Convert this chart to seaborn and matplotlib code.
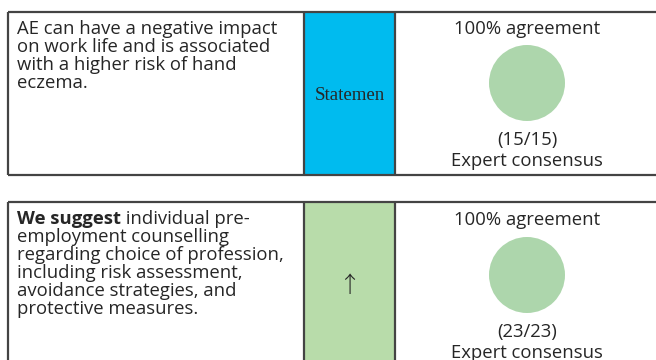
import matplotlib
matplotlib.use("Agg")
import matplotlib.pyplot as plt
import pandas as pd
import seaborn as sns

# contenu des deux recommandations
statement_lines = [
    ["AE can have a negative impact", "on work life and is associated",
     "with a higher risk of hand", "eczema."],
    ["individual pre-", "employment counselling",
     "regarding choice of profession,", "including risk assessment,",
     "avoidance strategies, and", "protective measures."],
]
bold_lead = ["", "We suggest"]
strength_labels = ["Statemen", "\u2191"]
strength_colors = ["#00BBEF", "#B8DCAA"]
agreement_pct = [100, 100]
votes = ["15/15", "23/23"]
consensus = ["Expert consensus", "Expert consensus"]

# mise en page en pixels
W, H = 656, 360
row_top = [12, 202]
row_bottom = [175, 366]
x_left, x_col1, x_col2 = 8, 304, 395
x_mid = 527
line_h = 18.0
fs = 13.3
text_color = "#262626"
border = "#444444"

sns.set_theme(style="white")
plt.rcParams["font.family"] = ["Open Sans", "DejaVu Sans"]

fig = plt.figure(figsize=(W / 100, H / 100), dpi=100)
ax = fig.add_axes([0, 0, 1, 1])
ax.set_xlim(0, W)
ax.set_ylim(H, 0)
ax.axis("off")

for i in range(len(statement_lines)):
    top, bot = row_top[i], row_bottom[i]
    # case colorée de la force de recommandation
    ax.fill_between([x_col1, x_col2], top, bot, color=strength_colors[i], lw=0, zorder=1)
    # bordures
    ax.hlines([top, bot], x_left, W, color=border, lw=1.6, zorder=3)
    ax.vlines([x_left, x_col1, x_col2], top, bot, color=border, lw=1.6, zorder=3)

    # texte de la recommandation
    y0 = top + (21.5 if i == 0 else 22.3)
    lines = statement_lines[i]
    x_start = x_left + 9
    if bold_lead[i]:
        t = ax.text(x_start, y0, bold_lead[i], fontsize=fs, fontweight="bold",
                    color=text_color, va="baseline", ha="left")
        fig.canvas.draw()
        bb = t.get_window_extent().transformed(ax.transData.inverted())
        ax.text(bb.x1, y0, " " + lines[0], fontsize=fs, color=text_color,
                va="baseline", ha="left")
    else:
        ax.text(x_start, y0, lines[0], fontsize=fs, color=text_color,
                va="baseline", ha="left")
    for k, ln in enumerate(lines[1:], start=1):
        ax.text(x_start, y0 + k * line_h, ln, fontsize=fs, color=text_color,
                va="baseline", ha="left")

    # libellé de force
    if i == 0:
        ax.text((x_col1 + x_col2) / 2, top + 88, strength_labels[i], fontsize=13.6,
                family="Liberation Serif", color=text_color, ha="center", va="baseline")
    else:
        ax.text((x_col1 + x_col2) / 2, top + 84, strength_labels[i], fontsize=16,
                family=["Noto Sans CJK JP", "DejaVu Sans"], fontweight="light",
                color=text_color, ha="center", va="center")

    # colonne consensus
    base = top + (21.5 if i == 0 else 23)
    ax.text(x_mid, base, f"{agreement_pct[i]}% agreement", fontsize=fs,
            color=text_color, ha="center", va="baseline")
    ax.text(x_mid, base + 111.5, f"({votes[i]})", fontsize=fs,
            color=text_color, ha="center", va="baseline")
    ax.text(x_mid, base + 132.5, consensus[i], fontsize=fs,
            color=text_color, ha="center", va="baseline")

circles = pd.DataFrame({"x": [x_mid, x_mid], "y": [row_top[0] + 71, row_top[1] + 73]})
diam_pt = 76 * 72 / 100
sns.scatterplot(data=circles, x="x", y="y", s=diam_pt ** 2, color="#ADD6AC",
                edgecolor="none", ax=ax, legend=False, zorder=2)
ax.set_xlim(0, W)
ax.set_ylim(H, 0)
ax.axis("off")

fig.savefig("out.png", dpi=100)
